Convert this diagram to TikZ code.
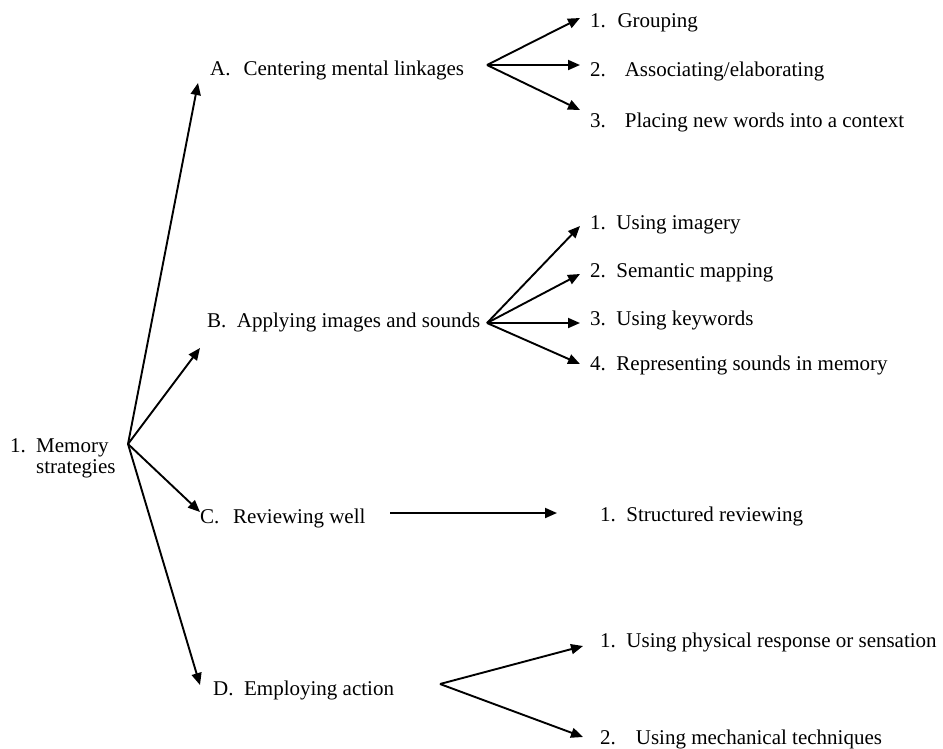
\documentclass[tikz,border=0pt]{standalone}
\usepackage{fontspec}
\setmainfont{Liberation Serif}
\usetikzlibrary{arrows.meta}
\begin{document}
\begin{tikzpicture}[x=1pt,y=-1pt,
  lbl/.style={anchor=base west,inner sep=0pt,font=\fontsize{21}{22}\selectfont},
  arr/.style={line width=1.9pt,-{Triangle[length=12pt,width=10pt]}}]
\useasboundingbox (0,0) rectangle (943,748);
% root
\node[lbl] (rnum) at (10,452) {1.};
\node[lbl] (rtop) at (36,452) {Memory};
\node[lbl] (rbot) at (36,473) {strategies};
\coordinate (r) at (128,444);
% level A-D
\node[lbl] (A) at (210,75) {A.\hspace{0.62em}Centering mental linkages};
\node[lbl] (B) at (207,327) {B.\hspace{0.5em}Applying images and sounds};
\node[lbl] (C) at (200,523) {C.\hspace{0.65em}Reviewing well};
\node[lbl] (D) at (213,695) {D.\hspace{0.5em}Employing action};
\coordinate (Atip) at (198,83);
\coordinate (Btip) at (200,348);
\coordinate (Ctip) at (200,512);
\coordinate (Dtip) at (200,685);
\draw[arr] (r) -- (Atip);
\draw[arr] (r) -- (Btip);
\draw[arr] (r) -- (Ctip);
\draw[arr] (r) -- (Dtip);
% fan A
\coordinate (Ao) at (487,65);
\node[lbl] (A1) at (590,27) {1.\hspace{0.55em}Grouping};
\node[lbl] (A2) at (590,76) {2.\hspace{0.9em}Associating/elaborating};
\node[lbl] (A3) at (590,127) {3.\hspace{0.9em}Placing new words into a context};
\coordinate (A1t) at (580,18);
\coordinate (A2t) at (580,65);
\coordinate (A3t) at (580,110);
\draw[arr] (Ao) -- (A1t);
\draw[arr] (Ao) -- (A2t);
\draw[arr] (Ao) -- (A3t);
% fan B
\coordinate (Bo) at (487,323);
\node[lbl] (B1) at (590,229) {1.\hspace{0.5em}Using imagery};
\node[lbl] (B2) at (590,277) {2.\hspace{0.5em}Semantic mapping};
\node[lbl] (B3) at (590,325) {3.\hspace{0.5em}Using keywords};
\node[lbl] (B4) at (590,370) {4.\hspace{0.5em}Representing sounds in memory};
\coordinate (B1t) at (580,226);
\coordinate (B2t) at (580,274);
\coordinate (B3t) at (580,323);
\coordinate (B4t) at (580,364);
\draw[arr] (Bo) -- (B1t);
\draw[arr] (Bo) -- (B2t);
\draw[arr] (Bo) -- (B3t);
\draw[arr] (Bo) -- (B4t);
% C
\coordinate (Co) at (390,513);
\coordinate (C1t) at (557,513);
\node[lbl] (C1) at (600,521) {1.\hspace{0.5em}Structured reviewing};
\draw[arr] (Co) -- (C1t);
% fan D
\coordinate (Do) at (440,684);
\node[lbl] (D1) at (600,647) {1.\hspace{0.5em}Using physical response or sensation};
\node[lbl] (D2) at (600,744) {2.\hspace{0.95em}Using mechanical techniques};
\coordinate (D1t) at (583,646);
\coordinate (D2t) at (583,737);
\draw[arr] (Do) -- (D1t);
\draw[arr] (Do) -- (D2t);
\end{tikzpicture}
\end{document}
